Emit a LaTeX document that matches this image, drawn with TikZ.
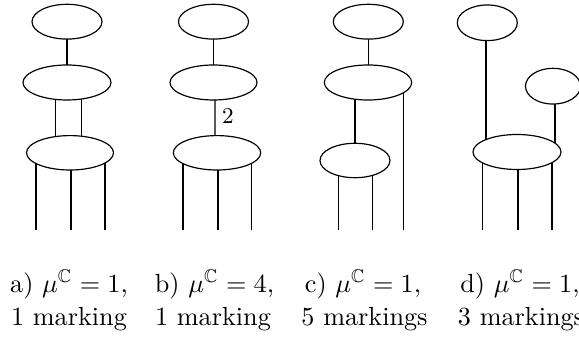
\documentclass[tikz,border=0pt]{standalone}
\usepackage{amssymb}
\usetikzlibrary{shapes.geometric,backgrounds,calc}
\tikzset{
  ell/.style 2 args={ellipse, draw, fill=white, inner sep=0pt, outer sep=0pt,
    line width=0.45pt, minimum width={2*#1*0.3817pt}, minimum height={2*#2*0.3817pt}},
  conn/.style={line width=0.45pt},
  captext/.style={anchor=base, inner sep=0pt, font=\fontsize{10}{12}\selectfont},
  multlabel/.style={inner sep=0pt, font=\fontsize{8.6}{10}\selectfont}
}
\begin{document}
\begin{tikzpicture}[x=0.3817pt, y=-0.3817pt]
\clip (0,0) rectangle (579,337);
% a
\node[ell={35}{17.4}] (A1) at (67,21.7) {};
\node[ell={44}{17.5}] (A2) at (67,82.5) {};
\node[ell={43.5}{17.2}] (A3) at (70,152.8) {};
% b
\node[ell={35}{17.4}] (B1) at (213.5,21.7) {};
\node[ell={43.5}{17.5}] (B2) at (213.5,82.5) {};
\node[ell={43.7}{17.2}] (B3) at (217,152.8) {};
\node[multlabel] (L2) at (228,115.8) {2};
% c
\node[ell={35}{17.4}] (C1) at (368.3,21.7) {};
\node[ell={43.7}{17.5}] (C2) at (368,82.5) {};
\node[ell={35}{17.2}] (C3) at (355,160.5) {};
% d
\node[ell={30}{17.8}] (D1) at (487.3,22.8) {};
\node[ell={27.5}{17.9}] (D2) at (553,86.2) {};
\node[ell={44}{17.5}] (D3) at (517,152) {};
\begin{scope}[on background layer]
  % a
  \draw[conn] (A1.center) -- (A2.center);
  \draw[conn] ($(A2.center)+(-11.5,0)$) -- ($(A3.center)+(-14.5,0)$);
  \draw[conn] ($(A2.center)+(14.5,0)$) -- ($(A3.center)+(11.5,0)$);
  \draw[conn] (A3.center) ++(-34,0) -- ++(0,77.2);
  \draw[conn] (A3.center) ++(1,0) -- ++(0,77.2);
  \draw[conn] (A3.center) ++(35,0) -- ++(0,77.2);
  % b
  \draw[conn] (B1.center) -- (B2.center);
  \draw[conn] ($(B2.center)+(1.5,0)$) -- ($(B3.center)+(-2,0)$);
  \draw[conn] (B3.center) ++(-34,0) -- ++(0,77.2);
  \draw[conn] (B3.center) ++(1,0) -- ++(0,77.2);
  \draw[conn] (B3.center) ++(34.7,0) -- ++(0,77.2);
  % c
  \draw[conn] (C1.center) -- ($(C2.center)+(0.3,0)$);
  \draw[conn] ($(C2.center)+(-13,0)$) -- (C3.center);
  \draw[conn] (C3.center) ++(-16.7,0) -- ++(0,69.5);
  \draw[conn] (C3.center) ++(17.7,0) -- ++(0,69.5);
  \draw[conn] (C2.center) ++(35.3,0) -- ++(0,147.5);
  % d
  \draw[conn] ($(D1.center)+(-1.3,0)$) -- ($(D3.center)+(-31,0)$);
  \draw[conn] ($(D2.center)+(2,0)$) -- ($(D3.center)+(38,0)$);
  \draw[conn] (D3.center) ++(-34.3,0) -- ++(0,78);
  \draw[conn] (D3.center) ++(1,0) -- ++(0,78);
  \draw[conn] (D3.center) ++(35,0) -- ++(0,78);
\end{scope}
% captions
\node[captext] (ta1) at (69,292.5) {a) $\mu^{\mathbb{C}}=1$,};
\node[captext] (ta2) at (69,326) {1 marking};
\node[captext] (tb1) at (214.5,292.5) {b) $\mu^{\mathbb{C}}=4$,};
\node[captext] (tb2) at (213,326) {1 marking};
\node[captext] (tc1) at (363,292.5) {c) $\mu^{\mathbb{C}}=1$,};
\node[captext] (tc2) at (364.5,326) {5 markings};
\node[captext] (td1) at (520,292.5) {d) $\mu^{\mathbb{C}}=1$,};
\node[captext] (td2) at (521,326) {3 markings};
\end{tikzpicture}
\end{document}
